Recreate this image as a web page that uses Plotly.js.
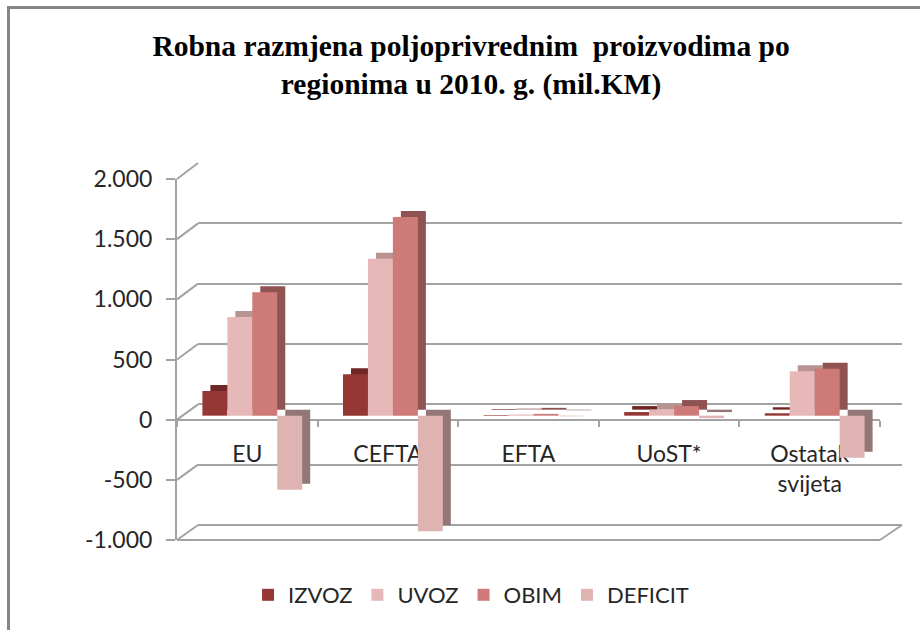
<!DOCTYPE html>
<html>
<head>
<meta charset="utf-8">
<script src="https://cdn.plot.ly/plotly-3.0.1.min.js"></script>
<style>
html,body{margin:0;padding:0;background:#fff;}
#wrap{position:relative;width:920px;height:630px;}
#chart{width:920px;height:630px;}
#frame{position:absolute;left:7px;top:6px;width:913px;height:624px;border-left:3px solid #858585;border-top:3px solid #858585;pointer-events:none;}
</style>
</head>
<body>
<div id="wrap"><div id="chart"></div><div id="frame"></div></div>
<script>
// ---- data ----
const categories = ['EU', 'CEFTA', 'EFTA', 'UoST*', 'Ostatak<br>svijeta'];
const izvoz   = [205, 345, 5, 30, 20];
const uvoz    = [820, 1305, 10, 50, 370];
const obim    = [1025, 1650, 15, 80, 390];
const deficit = [-615, -960, -5, -20, -350];
const seriesNames = ['IZVOZ', 'UVOZ', 'OBIM', 'DEFICIT'];
const yTickVals = [-1000, -500, 0, 500, 1000, 1500, 2000];
const yTickText = ['-1.000', '-500', '0', '500', '1.000', '1.500', '2.000'];

// ---- styling ----
const frontColors  = ['#953735', '#e6b9b8', '#cd7a79', '#e0b3b3'];
const shadowColors = ['#6f2624', '#b89392', '#8f5352', '#937676'];
const W = 920, H = 630;
const yMin = -1000, yMax = 2000;
const front  = {x0: 177, x1: 880, yTop: 179, yBot: 540};
const back   = {x0: 198, x1: 902, yTop: 163, yBot: 525};
const bars   = {x0: 182, x1: 885, yTop: 175, yBot: 536};
const shadow = {x0: 190, x1: 893, yTop: 169, yBot: 530};

const fx = p => p / W;
const fy = p => 1 - p / H;
const vpy = (pl, v) => pl.yBot - (v - yMin) / (yMax - yMin) * (pl.yBot - pl.yTop);
const xdom = pl => [fx(pl.x0), fx(pl.x1)];
const ydom = pl => [fy(pl.yBot), fy(pl.yTop)];

const allSeries = [izvoz, uvoz, obim, deficit];
const zeros = categories.map(() => 0);
const traces = [];
// subplot xy: back wall, invisible helper
traces.push({type: 'scatter', mode: 'markers', x: categories, y: zeros,
  xaxis: 'x', yaxis: 'y', marker: {opacity: 0}, showlegend: false, hoverinfo: 'skip'});
// subplot x2y2: front plane (axis labels), invisible helper
traces.push({type: 'scatter', mode: 'markers', x: categories, y: zeros,
  xaxis: 'x2', yaxis: 'y2', marker: {opacity: 0}, showlegend: false, hoverinfo: 'skip'});
// subplot x3y3: depth (shadow) bars
allSeries.forEach((vals, i) => traces.push({
  type: 'bar', x: categories, y: vals, xaxis: 'x3', yaxis: 'y3',
  marker: {color: shadowColors[i]}, showlegend: false, hoverinfo: 'skip', name: seriesNames[i]
}));
// subplot x4y4: front bars
allSeries.forEach((vals, i) => traces.push({
  type: 'bar', x: categories, y: vals, xaxis: 'x4', yaxis: 'y4',
  marker: {color: frontColors[i]}, name: seriesNames[i]
}));

const tickFont = {family: 'Lato, "Open Sans", sans-serif', size: 23, color: '#262626'};
const gridCol = '#a3a3a3';

const hiddenX = (pl, anchor) => ({domain: xdom(pl), type: 'category', range: [-0.5, 4.5], visible: false, anchor: anchor, fixedrange: true});
const hiddenY = (pl, anchor) => ({domain: ydom(pl), range: [yMin, yMax], visible: false, anchor: anchor, fixedrange: true});

const shapes = [];
const line = (x0, y0, x1, y1, color, width) => shapes.push({type: 'line', xref: 'paper', yref: 'paper',
  x0: fx(x0), y0: fy(y0), x1: fx(x1), y1: fy(y1), line: {color: color, width: width}, layer: 'below'});
yTickVals.forEach(v => line(front.x0, vpy(front, v), back.x0, vpy(back, v), gridCol, 2));
line(front.x0, front.yBot, front.x1, front.yBot, gridCol, 2);
line(front.x1, front.yBot, back.x1, back.yBot, gridCol, 2);
line(back.x0, back.yBot, back.x1, back.yBot, gridCol, 2);

const layout = {
  width: W, height: H,
  margin: {l: 0, r: 0, t: 0, b: 0, pad: 0},
  paper_bgcolor: '#ffffff', plot_bgcolor: 'rgba(0,0,0,0)',
  separators: ',.',
  barmode: 'group', bargap: 0.29, bargroupgap: 0,
  title: {
    text: 'Robna razmjena poljoprivrednim  proizvodima po<br>regionima u 2010. g. (mil.KM)',
    font: {family: '"Liberation Serif", "Times New Roman", serif', size: 29.5, color: '#000', weight: 'bold'},
    x: 0.512, xanchor: 'center', y: fy(56), yanchor: 'top', yref: 'paper'
  },
  // back wall
  xaxis: hiddenX(back, 'y'),
  yaxis: {domain: ydom(back), range: [yMin, yMax], anchor: 'x', tickvals: yTickVals, showticklabels: false,
    showgrid: true, gridcolor: gridCol, gridwidth: 2, zeroline: false, showline: false, ticks: '', fixedrange: true},
  // front plane
  xaxis2: {domain: xdom(front), type: 'category', range: [-0.5, 4.5],
    anchor: 'free', position: fy(vpy(front, 0)),
    showline: true, linecolor: gridCol, linewidth: 2, showgrid: false, zeroline: false,
    ticks: 'outside', tickson: 'boundaries', ticklen: 6, tickcolor: gridCol, tickwidth: 2,
    ticklabelstandoff: 14, tickfont: tickFont, fixedrange: true},
  yaxis2: {domain: ydom(front), range: [yMin, yMax], anchor: 'x2',
    tickvals: yTickVals, ticktext: yTickText, tickfont: tickFont,
    showline: true, linecolor: gridCol, linewidth: 2, showgrid: false, zeroline: false,
    ticks: 'outside', ticklen: 9, tickcolor: gridCol, tickwidth: 2, ticklabelstandoff: 9, fixedrange: true},
  // shadows
  xaxis3: hiddenX(shadow, 'y3'),
  yaxis3: hiddenY(shadow, 'x3'),
  // front bars
  xaxis4: hiddenX(bars, 'y4'),
  yaxis4: hiddenY(bars, 'x4'),
  legend: {orientation: 'h', x: 0.512, xanchor: 'center', y: fy(595), yanchor: 'middle',
    font: {family: 'Lato, "Open Sans", sans-serif', size: 22, color: '#262626'}, traceorder: 'normal'},
  shapes: shapes,
  showlegend: true
};

Plotly.newPlot('chart', traces, layout, {displayModeBar: false, staticPlot: true});
</script>
</body>
</html>
